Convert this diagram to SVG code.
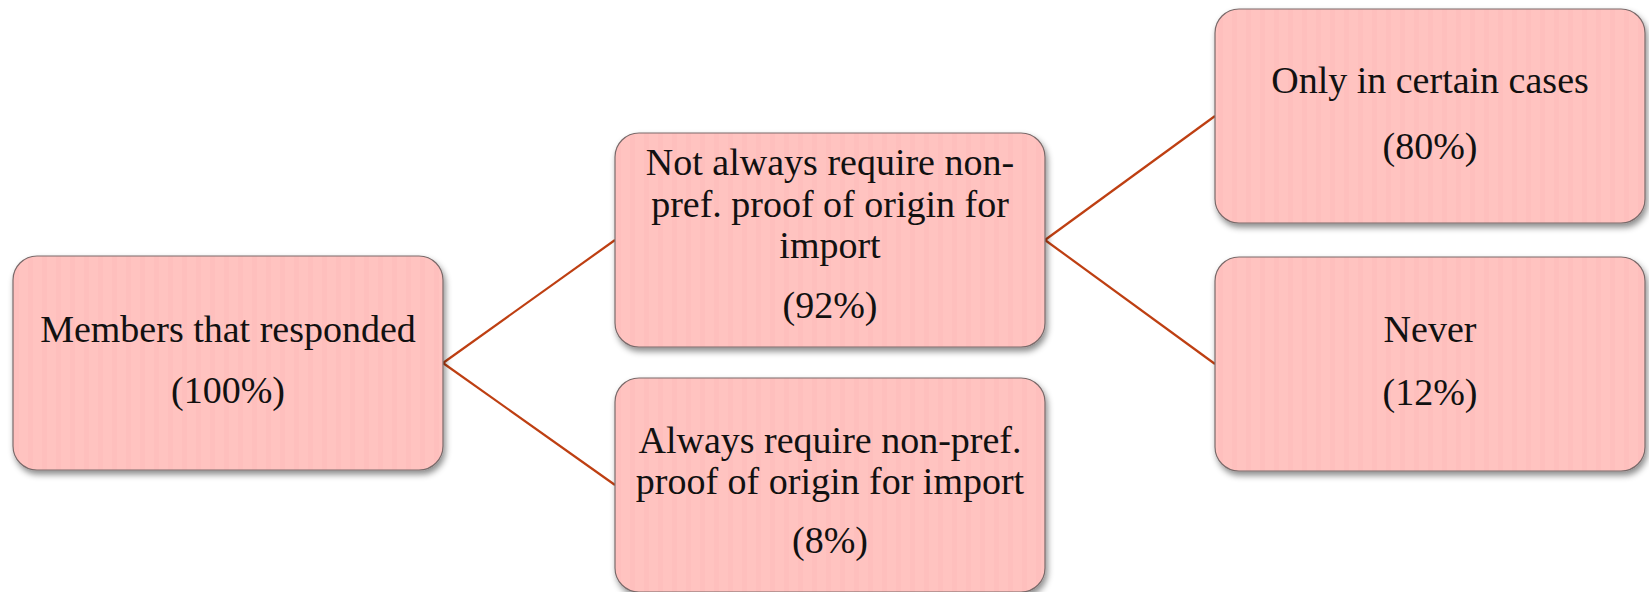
<svg xmlns="http://www.w3.org/2000/svg" width="1649" height="592" viewBox="0 0 1649 592">
<defs>
<filter id="sh" x="-10%" y="-10%" width="125%" height="130%">
<feDropShadow dx="2" dy="4" stdDeviation="3" flood-color="#000" flood-opacity="0.45"/>
</filter>
<pattern id="stripes" width="14" height="10" patternUnits="userSpaceOnUse">
<rect width="14" height="10" fill="#FFC3C0"/>
<rect x="0" width="5" height="10" fill="#FDBDBA" opacity="0.6"/>
</pattern>
</defs>
<style>
.box{fill:url(#stripes);stroke:#7a6a6a;stroke-width:1.2;filter:url(#sh)}
.t{font-family:"Liberation Serif","Times New Roman",serif;font-size:38px;fill:#111;text-anchor:middle}
.c{fill:none;stroke:#BE3F12;stroke-width:2.2}
</style>
<rect width="1649" height="592" fill="#fff"/>
<g id="connectors">
<line class="c" x1="443" y1="363" x2="615" y2="240"/>
<line class="c" x1="443" y1="363" x2="615" y2="485"/>
<line class="c" x1="1045" y1="240" x2="1215" y2="116"/>
<line class="c" x1="1045" y1="240" x2="1215" y2="364"/>
</g>
<g id="n1">
<rect class="box" x="13" y="256" width="430" height="214" rx="24"/>
<text class="t" x="228" y="342">Members that responded</text>
<text class="t" x="228" y="403">(100%)</text>
</g>
<g id="n2">
<rect class="box" x="615" y="133" width="430" height="214" rx="24"/>
<text class="t" x="830" y="175">Not always require non-</text>
<text class="t" x="830" y="217">pref. proof of origin for</text>
<text class="t" x="830" y="258">import</text>
<text class="t" x="830" y="318">(92%)</text>
</g>
<g id="n3">
<rect class="box" x="615" y="378" width="430" height="214" rx="24"/>
<text class="t" x="830" y="453">Always require non-pref.</text>
<text class="t" x="830" y="494">proof of origin for import</text>
<text class="t" x="830" y="553">(8%)</text>
</g>
<g id="n4">
<rect class="box" x="1215" y="9" width="430" height="214" rx="24"/>
<text class="t" x="1430" y="93">Only in certain cases</text>
<text class="t" x="1430" y="159">(80%)</text>
</g>
<g id="n5">
<rect class="box" x="1215" y="257" width="430" height="214" rx="24"/>
<text class="t" x="1430" y="342">Never</text>
<text class="t" x="1430" y="405">(12%)</text>
</g>
</svg>
